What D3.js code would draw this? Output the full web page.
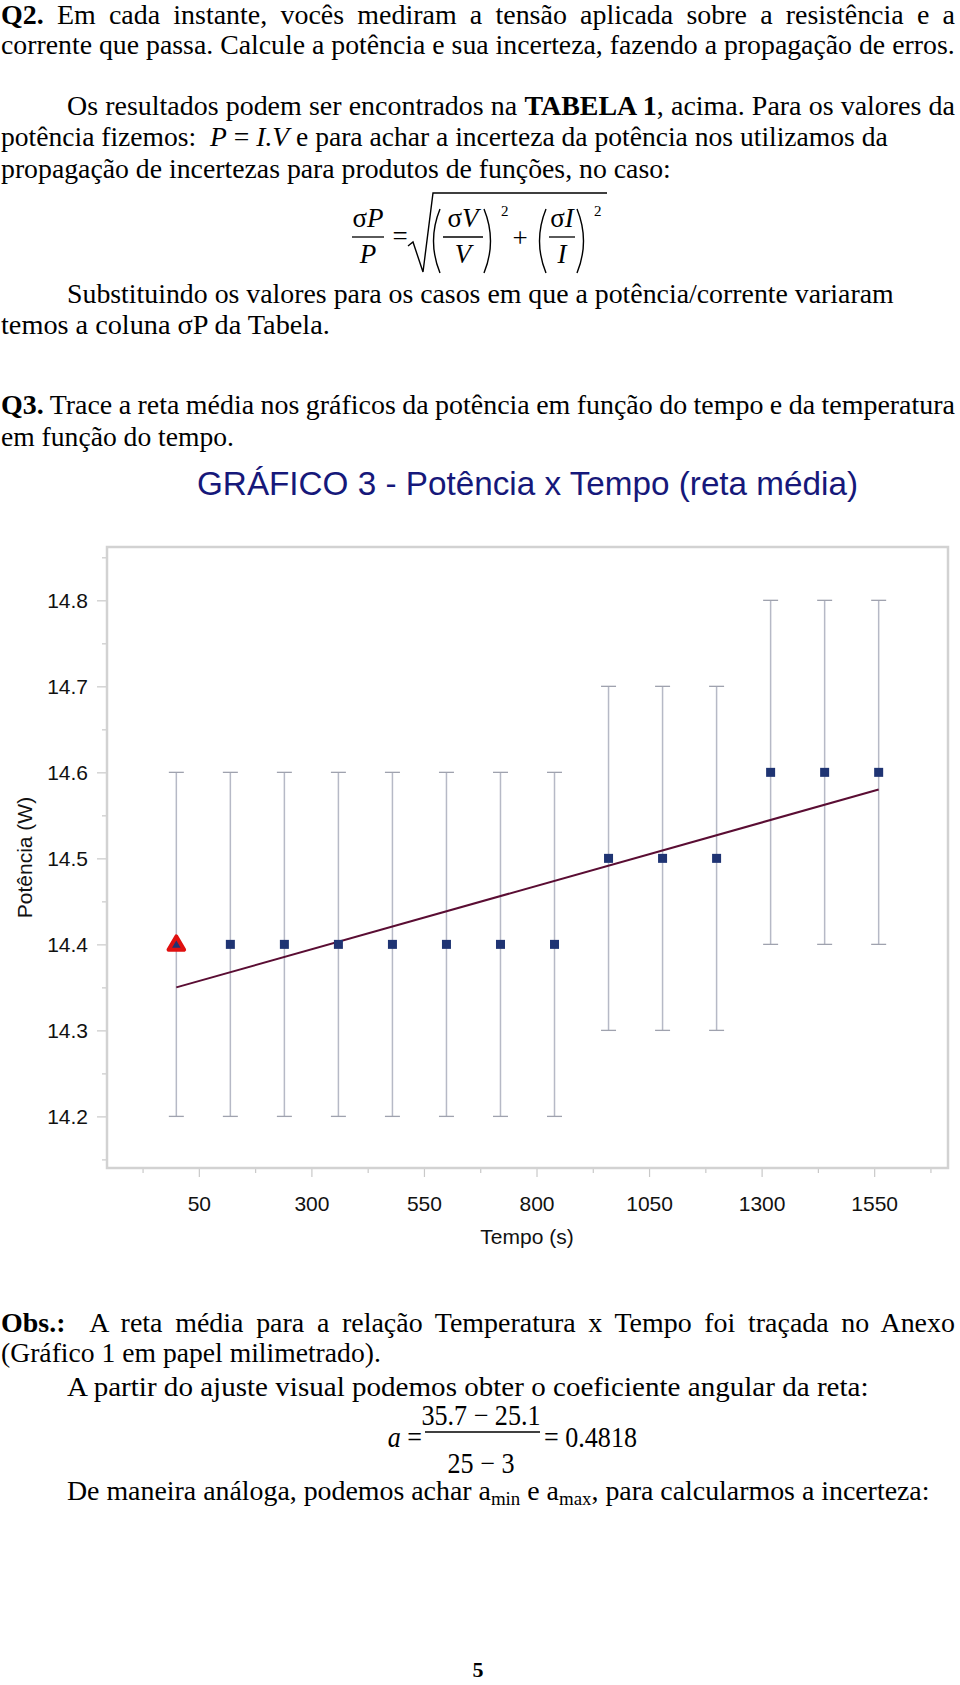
<!DOCTYPE html>
<html><head><meta charset="utf-8">
<script src="https://cdn.jsdelivr.net/npm/d3@7"></script>
<style>body{margin:0;background:#fff}svg{display:block}text{white-space:pre}</style>
</head><body>
<svg id="page" width="960" height="1685"></svg>
<script>
// ---------- chart data ----------
const tempo = [0,120,240,360,480,600,720,840,960,1080,1200,1320,1440,1560];
const potencia = [14.4,14.4,14.4,14.4,14.4,14.4,14.4,14.4,14.5,14.5,14.5,14.6,14.6,14.6];
const incerteza = [0.2,0.2,0.2,0.2,0.2,0.2,0.2,0.2,0.2,0.2,0.2,0.2,0.2,0.2];
const retaTempo = [0,1560];
const retaPotencia = [14.35,14.58];
const xTicks = [50,300,550,800,1050,1300,1550];
const xMinorTicks = [-75,175,425,675,925,1175,1425,1675];
const yTicks = [14.2,14.3,14.4,14.5,14.6,14.7,14.8];
const yMinorTicks = [14.15,14.25,14.35,14.45,14.55,14.65,14.75,14.85];
const titulo = "GRÁFICO 3 - Potência x Tempo (reta média)";
const xTitulo = "Tempo (s)";
const yTitulo = "Potência (W)";

// ---------- page text ----------
const paragrafos = [
 [{t:"Q2.",b:1},{t:" Em cada instante, vocês mediram a tensão aplicada sobre a resistência e a"}],
 [{t:"corrente que passa. Calcule a potência e sua incerteza, fazendo a propagação de erros."}],
 [{t:"Os resultados podem ser encontrados na "},{t:"TABELA 1",b:1},{t:", acima. Para os valores da"}],
 [{t:"potência fizemos:  "},{t:"P",i:1},{t:" = "},{t:"I.V",i:1},{t:" e para achar a incerteza da potência nos utilizamos da"}],
 [{t:"propagação de incertezas para produtos de funções, no caso:"}],
 [{t:"Substituindo os valores para os casos em que a potência/corrente variaram"}],
 [{t:"temos a coluna σP da Tabela."}],
 [{t:"Q3.",b:1},{t:" Trace a reta média nos gráficos da potência em função do tempo e da temperatura"}],
 [{t:"em função do tempo."}],
 [{t:"Obs.:",b:1},{t:"  A reta média para a relação Temperatura x Tempo foi traçada no Anexo"}],
 [{t:"(Gráfico 1 em papel milimetrado)."}],
 [{t:"A partir do ajuste visual podemos obter o coeficiente angular da reta:"}],
 [{t:"De maneira análoga, podemos achar a"},{t:"min",s:1},{t:" e a"},{t:"max",s:1},{t:", para calcularmos a incerteza:"}]
];
// layout: [x, baseline, width, justified]
const layout = [
 [1,24,954,1],[1,54,954,0],[67,115,888,1],[1,146,887,0],[1,178,670,0],
 [67,303,827,0],[1,334,329,0],
 [1,414,954,1],[1,446,233,0],
 [1,1332,954,1],[1,1362,380,0],[67,1396,802,0],[67,1500,863,0]
];

const svg = d3.select("#page");
const serif = "'Liberation Serif','Times New Roman',Times,serif";
const sans = "'Liberation Sans',Arial,Helvetica,sans-serif";

const linhas = paragrafos.map((segs,k)=>{
  const [x,y,w,j] = layout[k];
  const g = svg.append("g").attr("transform",`translate(${x},${y})`);
  const t = g.append("text").attr("x",0).attr("y",0)
    .attr("font-family",serif).attr("font-size",28).attr("fill","#000");
  let sub = false;
  segs.forEach(s=>{
    const ts = t.append("tspan").text(s.t);
    if (s.b) ts.attr("font-weight","bold");
    if (s.i) ts.attr("font-style","italic");
    if (s.s) { ts.attr("font-size",19).attr("dy",sub?0:5); sub = true; }
    else if (sub) { ts.attr("dy",-5); sub = false; }
  });
  return {t, w, j, w0: t.node().getComputedTextLength(), spaces: segs.map(s=>s.t).join("").split(" ").length-1};
});
// horizontal compression of the scanned text, measured on the free lines
const livres = linhas.filter(l=>!l.j);
const sx = d3.mean(livres, l=>l.w/l.w0);
linhas.forEach(l=>{
  if (l.j) {
    const extra = (l.w/sx - l.w0)/l.spaces;
    l.t.style("word-spacing", extra+"px").attr("transform",`scale(${sx},1)`);
  } else {
    l.t.attr("transform",`scale(${l.w/l.w0},1)`);
  }
});

// ---------- formula 1: sigmaP/P = sqrt((sV/V)^2+(sI/I)^2) ----------
const f1 = svg.append("g").attr("font-family",serif).attr("font-size",27).attr("fill","#000");
function frac(g,cx,num,den,w,yNum,yBar,yDen){
  g.append("text").attr("x",cx).attr("y",yNum).attr("text-anchor","middle").html(num);
  g.append("line").attr("x1",cx-w/2).attr("x2",cx+w/2).attr("y1",yBar).attr("y2",yBar).attr("stroke","#000").attr("stroke-width",1.3);
  g.append("text").attr("x",cx).attr("y",yDen).attr("text-anchor","middle").attr("font-style","italic").text(den);
}
frac(f1,368,"σ<tspan font-style='italic'>P</tspan>","P",32,227,237,263);
f1.append("text").attr("x",400).attr("y",245).attr("text-anchor","middle").text("=");
f1.append("path").attr("d","M408,246 L413,242 L423,272 L433,193 L607,193").attr("fill","none").attr("stroke","#000").attr("stroke-width",1.4);
const paren = (x1,x2)=>{
  f1.append("path").attr("d",`M${x1+9},209 Q${x1-4},241 ${x1+9},273`).attr("fill","none").attr("stroke","#000").attr("stroke-width",1.4);
  f1.append("path").attr("d",`M${x2-9},209 Q${x2+4},241 ${x2-9},273`).attr("fill","none").attr("stroke","#000").attr("stroke-width",1.4);
};
paren(431,493); paren(537,586);
frac(f1,463,"σ<tspan font-style='italic'>V</tspan>","V",40,227,237,263);
frac(f1,562,"σ<tspan font-style='italic'>I</tspan>","I",26,227,237,263);
f1.append("text").attr("x",501).attr("y",216).attr("font-size",15).text("2");
f1.append("text").attr("x",594).attr("y",216).attr("font-size",15).text("2");
f1.append("text").attr("x",520).attr("y",247).attr("text-anchor","middle").text("+");

// ---------- formula 2: a = (35.7-25.1)/(25-3) = 0.4818 ----------
const f2 = svg.append("g").attr("font-family",serif).attr("font-size",29).attr("fill","#000");
const comp = (sel,cx)=>sel.attr("transform",`translate(${cx},0) scale(0.9,1) translate(${-cx},0)`);
comp(f2.append("text").attr("x",422).attr("y",1447).attr("text-anchor","end")
  .html("<tspan font-style='italic'>a</tspan> ="),422);
comp(f2.append("text").attr("x",481).attr("y",1425).attr("text-anchor","middle").text("35.7 − 25.1"),481);
f2.append("line").attr("x1",425).attr("x2",540).attr("y1",1432).attr("y2",1432).attr("stroke","#000").attr("stroke-width",1.3);
comp(f2.append("text").attr("x",481).attr("y",1473).attr("text-anchor","middle").text("25 − 3"),481);
comp(f2.append("text").attr("x",544).attr("y",1447).text("= 0.4818"),544);

// page number
svg.append("text").attr("x",478).attr("y",1677).attr("text-anchor","middle")
  .attr("font-family",serif).attr("font-size",22).attr("font-weight","bold").text("5");

// ---------- chart ----------
const plot = {left:107, right:948, top:547, bottom:1168};
const x = d3.scaleLinear().domain([-154,1714]).range([plot.left,plot.right]);
const y = d3.scaleLinear().domain([14.14,14.862]).range([plot.bottom,plot.top]);

svg.append("text").attr("x",197).attr("y",495).attr("font-family",sans).attr("font-size",33)
  .attr("fill","#16187a").attr("textLength",661).attr("lengthAdjust","spacingAndGlyphs").text(titulo);

const tickColor = "#c9c9c9";
svg.append("g").attr("transform",`translate(${plot.left},0)`)
  .call(d3.axisLeft(y).tickValues(yTicks).tickSize(10).tickPadding(9).tickFormat(d3.format(".1f")));
svg.append("g").attr("transform",`translate(${plot.left},0)`)
  .call(d3.axisLeft(y).tickValues(yMinorTicks).tickSize(5).tickFormat(""));
svg.append("g").attr("transform",`translate(0,${plot.bottom})`)
  .call(d3.axisBottom(x).tickValues(xTicks).tickSize(9).tickPadding(19).tickFormat(d3.format("d")));
svg.append("g").attr("transform",`translate(0,${plot.bottom})`)
  .call(d3.axisBottom(x).tickValues(xMinorTicks).tickSize(5).tickFormat(""));
svg.selectAll(".domain").remove();
svg.selectAll(".tick line").attr("stroke",tickColor).attr("stroke-width",1.2);
svg.selectAll(".tick text").attr("font-family",sans).attr("font-size",21).attr("fill","#111");

// frame
svg.append("rect").attr("x",plot.left).attr("y",plot.top)
  .attr("width",plot.right-plot.left).attr("height",plot.bottom-plot.top)
  .attr("fill","none").attr("stroke","#d2d2d2").attr("stroke-width",2.5);

// axis titles
svg.append("text").attr("x",527).attr("y",1244).attr("text-anchor","middle")
  .attr("font-family",sans).attr("font-size",21).attr("fill","#111").text(xTitulo);
svg.append("text").attr("transform",`translate(32,${(plot.top+plot.bottom)/2}) rotate(-90)`)
  .attr("text-anchor","middle").attr("font-family",sans).attr("font-size",21).attr("fill","#111").text(yTitulo);

// error bars
const dados = tempo.map((t,i)=>({t,p:potencia[i],e:incerteza[i]}));
const eb = svg.append("g");
eb.selectAll("line.v").data(dados).join("line").attr("class","v")
  .attr("x1",d=>x(d.t)).attr("x2",d=>x(d.t)).attr("y1",d=>y(d.p-d.e)).attr("y2",d=>y(d.p+d.e))
  .attr("stroke","#b6b9c6").attr("stroke-width",1.5);
["lo","hi"].forEach(k=>{
  eb.selectAll("line."+k).data(dados).join("line").attr("class",k)
    .attr("x1",d=>x(d.t)-7.5).attr("x2",d=>x(d.t)+7.5)
    .attr("y1",d=>y(k==="lo"?d.p-d.e:d.p+d.e)).attr("y2",d=>y(k==="lo"?d.p-d.e:d.p+d.e))
    .attr("stroke","#9fa2ae").attr("stroke-width",1.3);
});

// mean line
const reta = retaTempo.map((t,i)=>[t,retaPotencia[i]]);
svg.append("path").datum(reta).attr("d",d3.line().x(d=>x(d[0])).y(d=>y(d[1])))
  .attr("fill","none").attr("stroke","#5a0d33").attr("stroke-width",2);

// markers
const navy = "#1f3473";
svg.append("g").selectAll("rect").data(dados.slice(1)).join("rect")
  .attr("x",d=>x(d.t)-4.5).attr("y",d=>y(d.p)-4.5).attr("width",9).attr("height",9).attr("fill",navy);
svg.append("g").selectAll("path").data(dados.slice(0,1)).join("path")
  .attr("transform",d=>`translate(${x(d.t)},${y(d.p)+1})`)
  .attr("d",d3.symbol(d3.symbolTriangle,105))
  .attr("fill",navy).attr("stroke","#e01010").attr("stroke-width",4).attr("stroke-linejoin","round");
</script>
</body></html>
